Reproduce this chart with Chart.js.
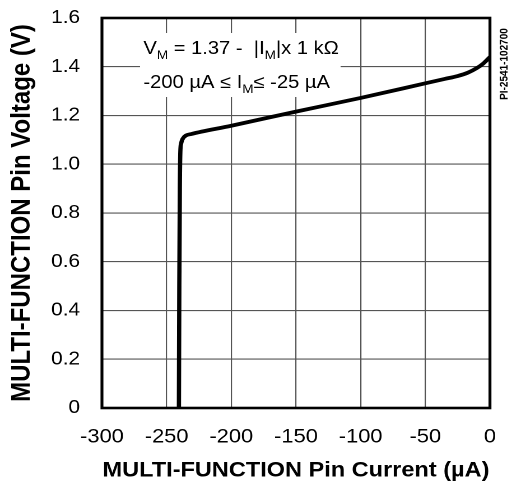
<!DOCTYPE html>
<html>
<head>
<meta charset="utf-8">
<script src="https://cdn.jsdelivr.net/npm/chart.js@4.4.1/dist/chart.umd.min.js"></script>
<style>
  body { margin: 0; background: #fff; overflow: hidden; }
  /* la figura original esta estirada en horizontal */
  #wrap { width: 457px; height: 485px; transform: scaleX(1.1204); transform-origin: 0 0; }
</style>
</head>
<body>
<div id="wrap"><canvas id="grafico"></canvas></div>
<script>
// datos
const currentUA = [-240.5, -240.2, -239.8, -239.4, -238.8, -237.5, -235, -231, -200, -150, -100, -50, -35, -25, -17, -10, -5, 0];
const voltageV  = [0, 0.5, 0.9, 1.05, 1.085, 1.105, 1.118, 1.124, 1.158, 1.216, 1.272, 1.332, 1.35, 1.362, 1.376, 1.395, 1.414, 1.44];
const xTicks = [-300, -250, -200, -150, -100, -50, 0];
const yTicks = [0, 0.2, 0.4, 0.6, 0.8, 1.0, 1.2, 1.4, 1.6];

const puntos = currentUA.map((x, i) => ({ x: x, y: voltageV[i] }));
const FONT = '"Liberation Sans", Arial, sans-serif';

// dibuja texto con subindices
function textoConSub(ctx, partes, x, y, size) {
  partes.forEach(p => {
    if (p.sub) {
      ctx.font = Math.round(size * 0.66) + 'px ' + FONT;
      ctx.fillText(p.t, x, y + 5);
    } else {
      ctx.font = size + 'px ' + FONT;
      ctx.fillText(p.t, x, y);
    }
    x += ctx.measureText(p.t).width;
  });
}

const anotaciones = {
  id: 'anotaciones',
  beforeDatasetsDraw(chart) {
    const ctx = chart.ctx;
    ctx.save();
    ctx.fillStyle = '#fff';
    ctx.fillRect(125, 33, 179, 64);
    ctx.fillStyle = '#000';
    ctx.textBaseline = 'alphabetic';
    textoConSub(ctx, [{t: 'V'}, {t: 'M', sub: true}, {t: ' = 1.37 -  '}, {t: '|'}, {t: 'I'}, {t: 'M', sub: true}, {t: '|'}, {t: 'x 1 kΩ'}], 128, 54, 18);
    textoConSub(ctx, [{t: '-200 µA ≤ I'}, {t: 'M', sub: true}, {t: '≤ -25 µA'}], 128, 88, 18);
    ctx.restore();
  },
  afterDatasetsDraw(chart) {
    const ctx = chart.ctx;
    const a = chart.chartArea;
    ctx.save();
    ctx.strokeStyle = '#000';
    ctx.lineWidth = 2.6;
    ctx.strokeRect(a.left, a.top, a.right - a.left, a.bottom - a.top);
    // etiqueta lateral
    ctx.translate(450, 64);
    ctx.rotate(-Math.PI / 2);
    ctx.fillStyle = '#000';
    ctx.font = 'bold 10px ' + FONT;
    ctx.textAlign = 'center';
    ctx.textBaseline = 'middle';
    ctx.fillText('PI-2541-102700', 0, 0);
    ctx.restore();
  }
};

const ctx = document.getElementById('grafico').getContext('2d');
new Chart(ctx, {
  type: 'scatter',
  data: {
    datasets: [{
      data: puntos,
      showLine: true,
      borderColor: '#000',
      borderWidth: 3.8,
      pointRadius: 0,
      cubicInterpolationMode: 'monotone',
      fill: false
    }]
  },
  options: {
    responsive: true,
    maintainAspectRatio: false,
    animation: false,
    devicePixelRatio: 2,
    layout: { padding: { top: 18, right: 19.7, left: 0, bottom: 0 } },
    plugins: { legend: { display: false }, tooltip: { enabled: false } },
    scales: {
      x: {
        type: 'linear',
        min: -300,
        max: 0,
        // sin relleno automatico por las etiquetas de los extremos
        afterFit: s => { s.height = 77; s.paddingLeft = 0; s.paddingRight = 0; },
        afterBuildTicks: s => { s.ticks = xTicks.map(v => ({ value: v })); },
        grid: { color: '#555', lineWidth: 1.1, drawTicks: false },
        border: { display: false },
        ticks: {
          color: '#000',
          padding: 17.5,
          maxRotation: 0,
          font: { family: FONT, size: 19.5 },
          callback: v => String(v)
        },
        title: {
          display: true,
          text: 'MULTI-FUNCTION Pin Current (µA)',
          color: '#000',
          padding: { top: 0, bottom: 1.6 },
          font: { family: FONT, size: 21, weight: 'bold' }
        }
      },
      y: {
        type: 'linear',
        min: 0,
        max: 1.6,
        afterFit: s => { s.width = 91; s.paddingTop = 0; s.paddingBottom = 0; },
        afterBuildTicks: s => { s.ticks = yTicks.map(v => ({ value: v })); },
        grid: { color: '#555', lineWidth: 1.1, drawTicks: false },
        border: { display: false },
        ticks: {
          color: '#000',
          padding: 19.6,
          font: { family: FONT, size: 18.5 },
          callback: v => (v === 0 ? '0' : v.toFixed(1))
        },
        title: {
          display: true,
          text: 'MULTI-FUNCTION Pin Voltage (V)',
          color: '#000',
          padding: { top: 5.7, bottom: 0 },
          font: { family: FONT, size: 24, weight: 'bold' }
        }
      }
    }
  },
  plugins: [anotaciones]
});
</script>
</body>
</html>
